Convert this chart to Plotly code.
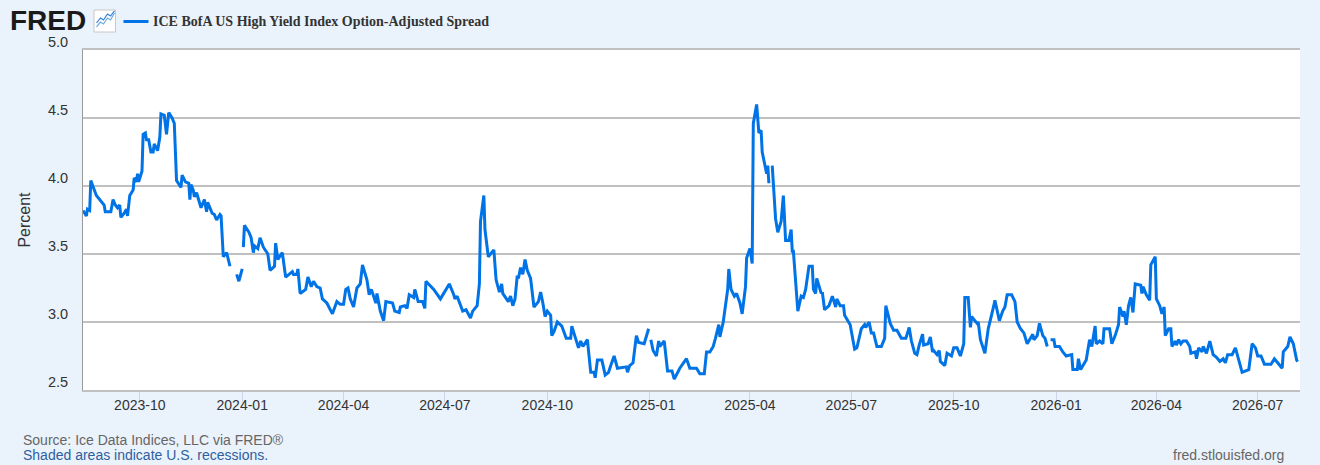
"""
FRED chart: ICE BofA US High Yield Index Option-Adjusted Spread
"""

import pandas as pd
import plotly.graph_objects as go

START_DATE = "2023-08-11"
END_DAY = 1093

# days after START_DATE and spread in percent, split where the line has gaps
days_1 = [
    0, 3, 4, 6, 7, 10, 12, 16, 19, 20, 22, 25, 27, 29, 31, 33, 34, 37, 39, 40,
    42, 45, 46, 48, 49, 50, 53, 54, 56, 57, 59, 61, 63, 64, 67, 69, 70, 73, 75, 77,
    80, 82, 84, 88, 89, 92, 95, 96, 97, 99, 100, 102, 106, 109, 111, 112, 116, 118, 120, 123,
    124, 126, 129, 132,
]
spread_1 = [
    3.82, 3.78, 3.83, 3.82, 4.04, 3.98, 3.93, 3.89, 3.86, 3.81, 3.81, 3.81, 3.90, 3.86, 3.84, 3.86, 3.77, 3.80, 3.83, 3.78,
    3.93, 3.97, 4.06, 4.03, 4.09, 4.03, 4.11, 4.38, 4.39, 4.34, 4.34, 4.25, 4.25, 4.31, 4.26, 4.36, 4.53, 4.52, 4.38, 4.54,
    4.50, 4.46, 4.04, 3.99, 4.08, 4.03, 4.02, 3.90, 4.01, 3.97, 3.92, 3.95, 3.84, 3.90, 3.81, 3.88, 3.80, 3.79, 3.75, 3.79,
    3.78, 3.48, 3.51, 3.41,
]

days_2 = [138, 140, 143]
spread_2 = [3.35, 3.30, 3.39]

days_3 = [
    144, 145, 149, 151, 153, 154, 157, 159, 162, 166, 168, 172, 173, 175, 179, 182, 188, 189, 192, 193,
    195, 200, 202, 205, 207, 210, 213, 215, 219, 224, 228, 231, 234, 236, 238, 240, 243, 246, 249, 251,
    255, 257, 259, 263, 264, 267, 270, 272, 278, 280, 284, 285, 289, 291, 293, 297, 298, 300, 301, 305,
    307, 308, 315, 321, 325, 329, 333, 334, 336, 339, 341, 344, 348, 350, 354, 356, 357, 360, 361, 364,
    369, 371, 374, 376, 377, 382, 384, 386, 388, 390, 391, 393, 395, 397, 399, 402, 405, 409, 411, 413,
    415, 417, 420, 421, 423, 426, 430, 434, 438, 439, 443, 445, 447, 449, 453, 455, 456, 459, 460, 462,
    466, 469, 472, 474, 477, 480, 488, 489, 491, 494, 497, 499, 504, 508,
]
spread_3 = [
    3.55, 3.71, 3.66, 3.62, 3.51, 3.56, 3.54, 3.62, 3.55, 3.50, 3.38, 3.41, 3.58, 3.46, 3.51, 3.33, 3.37, 3.35, 3.35, 3.39,
    3.21, 3.24, 3.33, 3.26, 3.30, 3.26, 3.25, 3.17, 3.14, 3.06, 3.15, 3.13, 3.13, 3.24, 3.25, 3.17, 3.11, 3.25, 3.28, 3.42,
    3.31, 3.20, 3.24, 3.14, 3.21, 3.08, 3.01, 3.15, 3.14, 3.08, 3.07, 3.11, 3.12, 3.10, 3.20, 3.18, 3.24, 3.19, 3.15, 3.15,
    3.10, 3.30, 3.24, 3.17, 3.22, 3.28, 3.20, 3.17, 3.19, 3.12, 3.08, 3.09, 3.03, 3.08, 3.12, 3.28, 3.74, 3.93, 3.68, 3.48,
    3.53, 3.31, 3.22, 3.28, 3.21, 3.15, 3.19, 3.12, 3.17, 3.34, 3.32, 3.40, 3.35, 3.46, 3.38, 3.32, 3.11, 3.15, 3.22, 3.14,
    3.04, 3.08, 3.05, 2.90, 2.93, 3.00, 2.97, 2.88, 2.88, 2.97, 2.87, 2.81, 2.86, 2.82, 2.87, 2.70, 2.63, 2.63, 2.59, 2.72,
    2.72, 2.61, 2.63, 2.68, 2.75, 2.66, 2.67, 2.63, 2.68, 2.70, 2.90, 2.85, 2.84, 2.95,
]

days_4 = [
    510, 512, 515, 517, 518, 522, 525, 529, 531, 536, 542, 545, 551, 554, 558, 560, 563, 566, 568, 571,
    572, 575, 579, 580, 582, 585, 587, 590, 592, 595, 596, 599, 601, 602, 605, 607, 609, 610, 614, 615,
    616,
]
spread_4 = [
    2.87, 2.79, 2.75, 2.86, 2.82, 2.86, 2.64, 2.64, 2.58, 2.66, 2.73, 2.66, 2.66, 2.62, 2.62, 2.78, 2.78, 2.82, 2.88, 2.98,
    2.89, 3.00, 3.24, 3.39, 3.24, 3.19, 3.21, 3.14, 3.06, 3.26, 3.47, 3.54, 3.43, 4.46, 4.60, 4.39, 4.41, 4.25, 4.09, 4.15,
    4.02,
]

days_5 = [
    619, 622, 624, 627, 629, 631, 634, 636, 637, 638, 642, 645, 647, 649, 652, 655, 656, 658, 659, 661,
    663, 664, 666, 670, 673, 676, 677, 680, 683, 684, 689, 693, 695, 699, 702, 703, 706, 708, 710, 713,
    717, 720, 721, 725, 728, 731, 735, 739, 742, 744, 747, 749, 751, 754, 755, 759, 761, 763, 764, 767,
    769, 770, 774, 776, 780, 782, 785, 788, 791, 792, 795, 797, 798, 803, 804, 806, 810, 813, 816, 818,
    819, 823, 826, 828, 830, 834, 837, 839, 842, 845, 848, 853, 854, 857, 859, 862, 864, 866,
]
spread_5 = [
    4.15, 3.76, 3.66, 3.74, 3.93, 3.60, 3.60, 3.68, 3.52, 3.52, 3.08, 3.19, 3.18, 3.24, 3.41, 3.41, 3.24, 3.21, 3.32, 3.26,
    3.21, 3.22, 3.09, 3.12, 3.19, 3.11, 3.17, 3.12, 3.12, 3.05, 2.98, 2.80, 2.81, 2.95, 2.98, 2.96, 3.00, 2.92, 2.92, 2.82,
    2.82, 2.88, 3.12, 2.99, 2.94, 2.94, 2.88, 2.88, 2.96, 2.86, 2.77, 2.76, 2.83, 2.91, 2.83, 2.84, 2.89, 2.78, 2.79, 2.76,
    2.79, 2.71, 2.68, 2.77, 2.75, 2.81, 2.81, 2.75, 2.84, 3.18, 3.18, 2.96, 3.04, 2.99, 3.00, 2.87, 2.77, 2.95, 3.04, 3.12,
    3.16, 3.01, 3.08, 3.11, 3.20, 3.20, 3.15, 3.00, 2.95, 2.92, 2.84, 2.91, 2.87, 2.90, 2.99, 2.90, 2.88, 2.82,
]

days_6 = [
    869, 872, 873, 877, 880, 883, 888, 889, 893, 894, 896, 898, 901, 904, 906, 909, 910, 913, 916, 917,
    922, 924, 927, 930, 931, 934, 935, 937, 939, 941, 943, 945, 950, 951, 952, 955, 958, 959, 963, 964,
    967, 969, 971, 972, 975, 977, 978, 981, 982, 984, 986, 988, 991, 994, 995, 999, 1000, 1002, 1005, 1006,
    1009, 1012, 1015, 1018, 1021, 1024, 1026, 1028, 1032, 1035, 1038, 1041, 1047, 1050, 1053, 1055, 1058, 1061, 1067, 1070,
    1072, 1077, 1078, 1082, 1084, 1087, 1090, 1091,
]
spread_6 = [
    2.87, 2.87, 2.82, 2.82, 2.78, 2.75, 2.76, 2.65, 2.65, 2.73, 2.65, 2.68, 2.72, 2.87, 2.82, 2.97, 2.84, 2.86, 2.84, 2.95,
    2.95, 2.84, 2.90, 2.98, 3.11, 3.04, 3.08, 2.98, 3.12, 3.18, 3.07, 3.28, 3.27, 3.21, 3.26, 3.20, 3.16, 3.42, 3.48, 3.17,
    3.12, 3.06, 3.11, 2.90, 2.95, 2.95, 2.82, 2.86, 2.83, 2.87, 2.84, 2.86, 2.86, 2.82, 2.77, 2.78, 2.73, 2.81, 2.78, 2.82,
    2.77, 2.86, 2.76, 2.74, 2.71, 2.73, 2.70, 2.76, 2.76, 2.81, 2.71, 2.63, 2.65, 2.84, 2.81, 2.75, 2.75, 2.69, 2.69, 2.73,
    2.71, 2.66, 2.78, 2.82, 2.89, 2.84, 2.72, 2.71,
]

segments = [
    (days_1, spread_1),
    (days_2, spread_2),
    (days_3, spread_3),
    (days_4, spread_4),
    (days_5, spread_5),
    (days_6, spread_6),
]

Y_TICKS = [2.5, 3.0, 3.5, 4.0, 4.5, 5.0]
ICON_LINE_A = [(96, 27), (100, 22), (103, 24), (107, 18), (110, 20), (114, 13)]
ICON_LINE_B = [(96, 23), (100, 18), (103, 20), (107, 14), (110, 16), (114, 11)]

WIDTH = 1320
HEIGHT = 465
PLOT_L = 82.5
PLOT_R = 1300
PLOT_T = 50
PLOT_B = 390

BG = "#EAF2FB"
LINE_BLUE = "#0073E6"
GRID = "#C0C0C0"
TEXT = "#333333"


def px_x(x):
    return (x - PLOT_L) / (PLOT_R - PLOT_L)


def px_y(y):
    return (PLOT_B - y) / (PLOT_B - PLOT_T)


def icon_path(points):
    return "M " + " L ".join(f"{px_x(x):.5f},{px_y(y):.5f}" for x, y in points)


def note(text, x, y, size, color, family="Liberation Sans", xanchor="left", weight=None):
    fig.add_annotation(
        text=text, xref="paper", yref="paper", x=px_x(x), y=px_y(y),
        xanchor=xanchor, yanchor="middle", showarrow=False,
        font=dict(family=family, size=size, color=color, weight=weight),
    )


dates = []
values = []
for seg_days, seg_values in segments:
    assert len(seg_days) == len(seg_values)
    dates += list(pd.Timestamp(START_DATE) + pd.to_timedelta(seg_days, unit="D"))
    values += seg_values
    # break the line between segments
    dates.append(dates[-1] + pd.Timedelta(days=1))
    values.append(None)

fig = go.Figure()
fig.add_trace(go.Scatter(
    x=dates, y=values, mode="lines", connectgaps=False,
    line=dict(color=LINE_BLUE, width=3),
    name="ICE BofA US High Yield Index Option-Adjusted Spread",
    showlegend=False,
))

fig.update_layout(
    width=WIDTH,
    height=HEIGHT,
    margin=dict(l=PLOT_L, r=WIDTH - PLOT_R, t=PLOT_T, b=HEIGHT - PLOT_B, autoexpand=False),
    paper_bgcolor=BG,
    plot_bgcolor="#FFFFFF",
    font=dict(family="Liberation Sans", color=TEXT),
)
fig.update_xaxes(
    range=[pd.Timestamp(START_DATE), pd.Timestamp(START_DATE) + pd.Timedelta(days=END_DAY)],
    tick0="2023-10-01", dtick="M3", tickformat="%Y-%m",
    ticks="outside", ticklen=10, tickwidth=1, tickcolor="#CCD6EB",
    showgrid=False, zeroline=False,
    # top and bottom edge lines sit on the 5.0 and 2.5 gridlines
    showline=True, mirror=True, linecolor=GRID, linewidth=1.5,
    ticklabelstandoff=-9,
    tickfont=dict(size=14, color=TEXT),
)
fig.update_yaxes(
    range=[2.5, 5.0], tickvals=Y_TICKS, showticklabels=False,
    showgrid=True, gridcolor=GRID, gridwidth=1.5,
    showline=True, linecolor="#999999", linewidth=1,
    zeroline=False, ticks="",
    title=dict(text="Percent", font=dict(size=16, color=TEXT), standoff=47),
)

# y tick labels sit a little above their gridlines
for tick in Y_TICKS:
    fig.add_annotation(
        text=f"{tick:.1f}", xref="paper", yref="y", x=px_x(69), y=tick, yshift=8,
        xanchor="right", yanchor="middle", showarrow=False,
        font=dict(size=14.5, color=TEXT),
    )

# logo, icon and legend key
note("FRED", 7, 20, 28, "#1A1A1A", weight="bold")
fig.add_shape(type="rect", xref="paper", yref="paper",
              x0=px_x(93.5), x1=px_x(115), y0=px_y(32), y1=px_y(10),
              fillcolor="#FFFFFF", line=dict(color="#C8C8C8", width=1))
fig.add_shape(type="path", xref="paper", yref="paper", path=icon_path(ICON_LINE_A),
              line=dict(color="#6FA8DC", width=1.2))
fig.add_shape(type="path", xref="paper", yref="paper", path=icon_path(ICON_LINE_B),
              line=dict(color="#2F7ED8", width=1.2))
fig.add_shape(type="line", xref="paper", yref="paper",
              x0=px_x(123), x1=px_x(148), y0=px_y(21.5), y1=px_y(21.5),
              line=dict(color=LINE_BLUE, width=3))
note("ICE BofA US High Yield Index Option-Adjusted Spread", 151, 21, 14, "#333333",
     family="Liberation Serif", weight="bold")

# footer
note("Source: Ice Data Indices, LLC via FRED®", 20, 440, 14, "#666666")
note("Shaded areas indicate U.S. recessions.", 20, 455, 14, "#2E5F9E")
note("fred.stlouisfed.org", 1286, 455, 14, "#666666", xanchor="right")

fig.write_html(
    "out.html",
    config={"displayModeBar": False},
    post_script="document.body.style.margin='0';document.body.style.overflow='hidden';",
)
